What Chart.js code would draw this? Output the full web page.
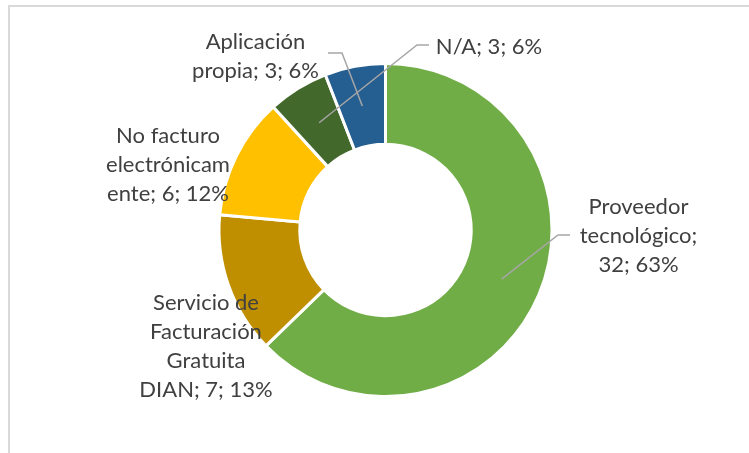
<!DOCTYPE html>
<html>
<head>
<meta charset="utf-8">
<script src="https://cdn.jsdelivr.net/npm/chart.js@4.4.0/dist/chart.umd.min.js"></script>
<style>
  html, body { margin: 0; padding: 0; background: #fff; }
  #wrap { position: relative; width: 749px; height: 453px; overflow: hidden; }
  #frame { position: absolute; left: 8px; top: 5px; width: 760px; height: 460px;
           border-left: 2px solid #D9D9D9; border-top: 2px solid #D9D9D9; box-sizing: border-box; }
  canvas { position: absolute; left: 0; top: 0; }
</style>
</head>
<body>
<div id="wrap">
  <div id="frame"></div>
  <canvas id="chart" width="749" height="453"></canvas>
</div>
<script>
// Data
const categories = ['Proveedor tecnológico', 'Servicio de Facturación Gratuita DIAN', 'No facturo electrónicamente', 'N/A', 'Aplicación propia'];
const counts = [32, 7, 6, 3, 3];
const percents = ['63%', '13%', '12%', '6%', '6%'];
const colors = ['#70AD47', '#BF8F00', '#FFC000', '#43682B', '#255E91'];

// where each data label sits, relative to the doughnut centre
const placements = [
    { dx: 253, dy: 6, width: 125, leader: { x: 184.5, y: 5, elbow: -12 } },
    { dx: -179.5, dy: 116.5, width: 136 },
    { dx: -217.5, dy: -65.5, width: 130 },
    { dx: 103.5, dy: -183, width: 200, leader: { x: 43.5, y: -185, elbow: -12 } },
    { dx: -130, dy: -174, width: 140, leader: { x: -57.5, y: -177, elbow: 14 } }
];

function wrap(ctx, text, maxWidth) {
    const words = text.split(' ');
    const lines = [];
    let line = '';
    words.forEach(w => {
        let test = line ? line + ' ' + w : w;
        if (ctx.measureText(test).width <= maxWidth) {
            line = test;
            return;
        }
        if (line) lines.push(line);
        // break words that are too long on their own
        let word = w;
        while (ctx.measureText(word).width > maxWidth) {
            let n = word.length;
            while (n > 1 && ctx.measureText(word.slice(0, n)).width > maxWidth) n--;
            lines.push(word.slice(0, n));
            word = word.slice(n);
        }
        line = word;
    });
    if (line) lines.push(line);
    return lines;
}

const excelLabels = {
    id: 'excelLabels',
    afterDatasetsDraw(chart) {
        const ctx = chart.ctx;
        const meta = chart.getDatasetMeta(0);
        const lh = 29;
        ctx.save();
        ctx.font = '22px Lato';
        meta.data.forEach((arc, i) => {
            const p = arc.getProps(['x', 'y', 'startAngle', 'endAngle', 'innerRadius', 'outerRadius'], true);
            const place = placements[i];
            const text = categories[i] + '; ' + counts[i] + '; ' + percents[i];
            const lines = wrap(ctx, text, place.width);
            const top = p.y + place.dy - lines.length * lh / 2;

            if (place.leader) {
                const mid = (p.startAngle + p.endAngle) / 2;
                const r = (p.innerRadius + p.outerRadius) / 2;
                const sx = p.x + place.leader.x, sy = p.y + place.leader.y;
                ctx.beginPath();
                ctx.moveTo(sx, sy);
                ctx.lineTo(sx + place.leader.elbow, sy);
                ctx.lineTo(p.x + Math.cos(mid) * r, p.y + Math.sin(mid) * r);
                ctx.strokeStyle = '#A6A6A6';
                ctx.lineWidth = 1.5;
                ctx.stroke();
            }

            ctx.fillStyle = '#404040';
            ctx.textAlign = 'center';
            ctx.textBaseline = 'middle';
            lines.forEach((ln, k) => ctx.fillText(ln, p.x + place.dx, top + lh * (k + 0.5)));
        });
        ctx.restore();
    }
};

new Chart(document.getElementById('chart'), {
    type: 'doughnut',
    data: {
        labels: categories,
        datasets: [{
            data: counts,
            backgroundColor: colors,
            borderColor: '#FFFFFF',
            borderWidth: 3
        }]
    },
    options: {
        responsive: false,
        animation: false,
        cutout: '51.5%',
        layout: { padding: { top: 62, bottom: 55, left: 50, right: 28 } },
        plugins: {
            legend: { display: false },
            tooltip: { enabled: false }
        }
    },
    plugins: [excelLabels]
});
</script>
</body>
</html>
